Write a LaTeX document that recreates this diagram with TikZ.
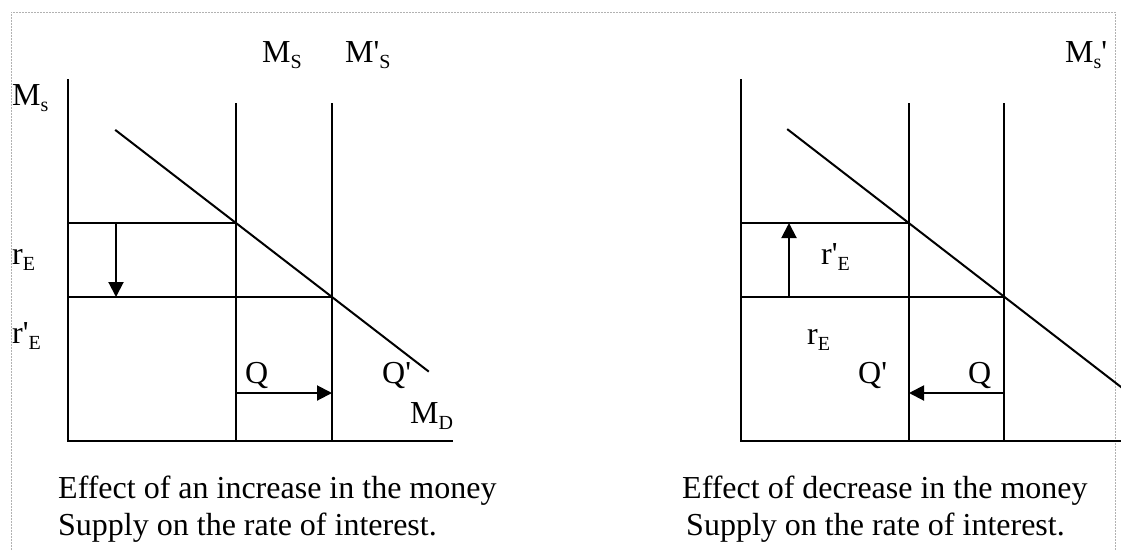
\documentclass[tikz,border=0pt]{standalone}
\usepackage{fontspec}
\setmainfont{Liberation Serif}[Ligatures=TeXOff]
\usetikzlibrary{arrows.meta}
\newcommand{\sbx}[1]{\raisebox{-6pt}{\fontsize{20}{20}\selectfont #1}}
\begin{document}
\begin{tikzpicture}[x=1pt,y=-1pt,
  ln/.style={line width=2pt,line cap=rect},
  arr/.style={line width=2pt,-{Triangle[length=15pt,width=15pt]}},
  lab/.style={anchor=base west,inner sep=0pt,font=\fontsize{32}{37}\selectfont},
  captxt/.style={anchor=base west,inner sep=0pt,font=\fontsize{32}{37}\selectfont},
  frame/.style={draw=gray!60,line width=0.8pt,dash pattern=on 2pt off 1pt}]
\useasboundingbox (0,0) rectangle (1121,550);
\fill[white] (0,0) rectangle (1121,550);
% frame
\coordinate (f1) at (11,550); \coordinate (f2) at (11,12);
\coordinate (f3) at (1115,12); \coordinate (f4) at (1115,550);
\draw[frame] (f1) -- (f2) -- (f3) -- (f4);
% ---------------- left panel ----------------
\coordinate (LyT) at (68,80); \coordinate (LO) at (68,441); \coordinate (LxR) at (452,441);
\coordinate (LaT) at (236,104); \coordinate (LaB) at (236,441);
\coordinate (LbT) at (332,104); \coordinate (LbB) at (332,441);
\coordinate (LdS) at (116,130.5); \coordinate (LdE) at (428,371);
\coordinate (Lh1a) at (68,223); \coordinate (Lh1b) at (236,223);
\coordinate (Lh2a) at (68,297); \coordinate (Lh2b) at (332,297);
\coordinate (LvA) at (116,223); \coordinate (LvB) at (116,297);
\coordinate (LqA) at (236,393); \coordinate (LqB) at (332,393);
\draw[ln] (LyT) -- (LO) -- (LxR);
\draw[ln] (LaT) -- (LaB);
\draw[ln] (LbT) -- (LbB);
\draw[ln] (LdS) -- (LdE);
\draw[ln] (Lh1a) -- (Lh1b);
\draw[ln] (Lh2a) -- (Lh2b);
\draw[arr] (LvA) -- (LvB);
\draw[arr] (LqA) -- (LqB);
\node[lab] (lMs) at (12,105) {M\sbx{s}};
\node[lab] (lMS) at (262,62) {M\sbx{S}};
\node[lab] (lMpS) at (345,62) {M'\sbx{S}};
\node[lab] (lrE) at (12,264) {r\sbx{E}};
\node[lab] (lrpE) at (12,343) {r'\sbx{E}};
\node[lab] (lQ) at (245,383) {Q};
\node[lab] (lQp) at (382,383) {Q'};
\node[lab] (lMD) at (410,423) {M\sbx{D}};
\node[captxt] (lc1) at (58,498) {Effect of an increase in the money};
\node[captxt] (lc2) at (58,535) {Supply on the rate of interest.};
% ---------------- right panel ----------------
\coordinate (RyT) at (741,80); \coordinate (RO) at (741,441); \coordinate (RxR) at (1121,441);
\coordinate (RaT) at (909,104); \coordinate (RaB) at (909,441);
\coordinate (RbT) at (1004,104); \coordinate (RbB) at (1004,441);
\coordinate (RdS) at (788,129.7); \coordinate (RdE) at (1121,387);
\coordinate (Rh1a) at (741,223); \coordinate (Rh1b) at (909,223);
\coordinate (Rh2a) at (741,297); \coordinate (Rh2b) at (1004,297);
\coordinate (RvA) at (789,297); \coordinate (RvB) at (789,223);
\coordinate (RqA) at (1004,393); \coordinate (RqB) at (909,393);
\draw[ln] (RyT) -- (RO) -- (RxR);
\draw[ln] (RaT) -- (RaB);
\draw[ln] (RbT) -- (RbB);
\draw[ln] (RdS) -- (RdE);
\draw[ln] (Rh1a) -- (Rh1b);
\draw[ln] (Rh2a) -- (Rh2b);
\draw[arr] (RvA) -- (RvB);
\draw[arr] (RqA) -- (RqB);
\node[lab] (rMsp) at (1065,62) {M\sbx{s}'};
\node[lab] (rrpE) at (821,264) {r'\sbx{E}};
\node[lab] (rrE) at (807,344) {r\sbx{E}};
\node[lab] (rQp) at (858,383) {Q'};
\node[lab] (rQ) at (968,383) {Q};
\node[captxt] (rc1) at (682,498) {Effect of decrease in the money};
\node[captxt] (rc2) at (686,535) {Supply on the rate of interest.};
\end{tikzpicture}
\end{document}
